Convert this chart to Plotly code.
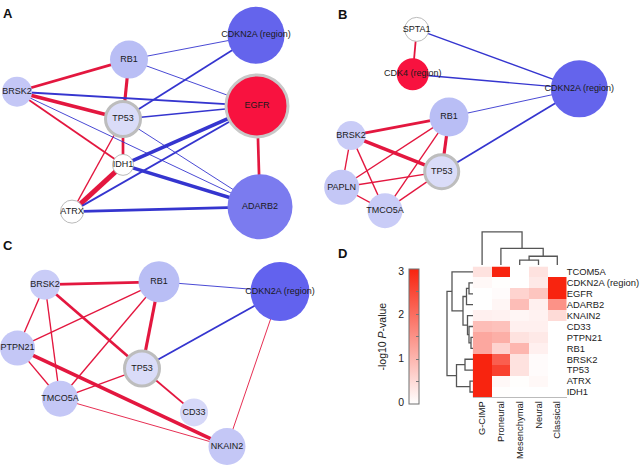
import plotly.graph_objects as go

W, H = 640, 471

# ---------------- data ----------------
# Network A: edges (source, target, sign (+1 positive / -1 negative), weight)
A_edges = [
    ("RB1", "BRSK2", 1, 3), ("RB1", "TP53", 1, 3.5), ("BRSK2", "TP53", 1, 4),
    ("BRSK2", "IDH1", 1, 2), ("TP53", "IDH1", 1, 3), ("IDH1", "ATRX", 1, 5.5),
    ("TP53", "ATRX", 1, 1.5), ("EGFR", "ADARB2", 1, 3),
    ("RB1", "CDKN2A (region)", -1, 1), ("RB1", "EGFR", -1, 1), ("BRSK2", "EGFR", -1, 2),
    ("BRSK2", "ADARB2", -1, 1), ("TP53", "CDKN2A (region)", -1, 2), ("TP53", "EGFR", -1, 1.5),
    ("TP53", "ADARB2", -1, 1), ("IDH1", "EGFR", -1, 4), ("IDH1", "ADARB2", -1, 4),
    ("ATRX", "EGFR", -1, 2), ("ATRX", "ADARB2", -1, 3),
]
# Network B
B_edges = [
    ("SPTA1", "CDK4 (region)", 1, 2), ("SPTA1", "CDKN2A (region)", -1, 1.5),
    ("CDK4 (region)", "CDKN2A (region)", -1, 1.5), ("RB1", "CDKN2A (region)", -1, 1),
    ("TP53", "CDKN2A (region)", -1, 2), ("RB1", "BRSK2", 1, 3), ("RB1", "TP53", 1, 3.5),
    ("RB1", "PAPLN", 1, 1.5), ("RB1", "TMCO5A", 1, 1.5), ("BRSK2", "TP53", 1, 4),
    ("BRSK2", "PAPLN", 1, 1.5), ("BRSK2", "TMCO5A", 1, 1.5), ("PAPLN", "TP53", 1, 1.5),
    ("PAPLN", "TMCO5A", 1, 1.5), ("TMCO5A", "TP53", 1, 1.5),
]
# Network C
C_edges = [
    ("BRSK2", "RB1", 1, 3), ("BRSK2", "TP53", 1, 3), ("BRSK2", "PTPN21", 1, 1.5),
    ("BRSK2", "TMCO5A", 1, 1.5), ("RB1", "TP53", 1, 3.5), ("RB1", "PTPN21", 1, 1.5),
    ("RB1", "TMCO5A", 1, 1.5), ("RB1", "CDKN2A (region)", -1, 1),
    ("TP53", "CDKN2A (region)", -1, 2), ("PTPN21", "TMCO5A", 1, 1.5),
    ("PTPN21", "NKAIN2", 1, 4), ("TMCO5A", "TP53", 1, 1.5), ("TMCO5A", "NKAIN2", 1, 1),
    ("TP53", "CD33", 1, 2), ("CDKN2A (region)", "NKAIN2", 1, 1),
]

# Heatmap D: -log10 P-values
hm_rows = ["TCOM5A", "CDKN2A (region)", "EGFR", "ADARB2", "KNAIN2", "CD33",
           "PTPN21", "RB1", "BRSK2", "TP53", "ATRX", "IDH1"]
hm_cols = ["G-CIMP", "Proneural", "Mesenchymal", "Neural", "Classical"]
hm_z = [
    [0.40, 3.00, 0.00, 0.40, 0.00],
    [0.10, 0.02, 0.00, 0.30, 3.00],
    [0.00, 0.05, 0.60, 0.80, 3.00],
    [0.00, 0.12, 0.90, 0.20, 1.50],
    [0.20, 0.18, 0.12, 0.18, 0.50],
    [0.90, 0.85, 0.20, 0.20, 0.00],
    [1.20, 1.10, 0.40, 0.30, 0.00],
    [1.20, 0.60, 1.00, 0.20, 0.00],
    [3.00, 2.20, 0.40, 0.05, 0.00],
    [3.00, 2.60, 0.40, 0.05, 0.00],
    [3.00, 0.10, 0.02, 0.10, 0.00],
    [3.00, 0.02, 0.00, 0.00, 0.00],
]
# dendrogram linkages: (child a, child b, height); new cluster ids continue after leaves
col_linkage = [(2, 3, 5), (5, 4, 9), (1, 6, 17), (0, 7, 34)]
row_linkage = [(1, 2, 4), (12, 3, 6.5), (6, 7, 2), (5, 14, 4), (4, 15, 5.5),
               (13, 16, 10), (0, 17, 21), (8, 9, 8), (10, 11, 3), (19, 20, 16.5),
               (18, 21, 26)]
cbar_ticks = [0, 1, 2, 3]

# ---------------- layout / style ----------------
LAV = "#C4C7F6"
LAV2 = "#B9BEF5"
PALE = "#DADCF8"
BLUE = "#6464EC"
BLUE2 = "#7B7BEF"
REDN = "#F8123F"
WHITE = "#FFFFFF"
# node: (x px, y px, diameter, fill, border color, border width)
A_nodes = {
    "CDKN2A (region)": (256, 30, 57, BLUE, BLUE, 0),
    "RB1": (129, 55, 38, LAV2, LAV2, 0),
    "BRSK2": (17, 88, 30, LAV, LAV, 0),
    "TP53": (123, 116, 35, PALE, "#BDBDBD", 3),
    "EGFR": (257, 102.5, 62, REDN, "#C8C8C8", 3),
    "IDH1": (123, 163, 21, WHITE, "#BBBBBB", 1),
    "ATRX": (72, 211, 23, WHITE, "#BBBBBB", 1),
    "ADARB2": (260, 206, 65, BLUE2, BLUE2, 0),
}
B_nodes = {
    "SPTA1": (416.7, 24, 24, WHITE, "#BBBBBB", 1),
    "CDK4 (region)": (412.7, 70, 32, REDN, REDN, 0),
    "CDKN2A (region)": (579.3, 85, 57, BLUE, BLUE, 0),
    "RB1": (449, 114, 39, LAV2, LAV2, 0),
    "BRSK2": (351, 133, 29, "#C9CCF7", "#C9CCF7", 0),
    "TP53": (441.7, 170, 34, PALE, "#BDBDBD", 3),
    "PAPLN": (341.7, 186, 35, LAV, LAV, 0),
    "TMCO5A": (385, 210, 35, "#C9CCF7", "#C9CCF7", 0),
}
C_nodes = {
    "BRSK2": (45, 286, 30, "#C9CCF7", "#C9CCF7", 0),
    "RB1": (159, 283, 41, LAV2, LAV2, 0),
    "CDKN2A (region)": (280, 293, 59, "#6262EE", "#6262EE", 0),
    "PTPN21": (17.5, 351, 35, LAV, LAV, 0),
    "TP53": (142, 372, 35, PALE, "#BDBDBD", 3),
    "TMCO5A": (60, 403, 36, LAV, LAV, 0),
    "CD33": (194, 417, 28, "#D6D8F8", "#D6D8F8", 0),
    "NKAIN2": (227, 452, 37, LAV, LAV, 0),
}
POS_COL = "#E3173F"
NEG_COL = "#3535CF"
FONT = "Liberation Sans, Arial, sans-serif"

fig = go.Figure()

def add_network(nodes, edges):
    for a, b, s, w in edges:
        xa, ya = nodes[a][:2]
        xb, yb = nodes[b][:2]
        fig.add_trace(go.Scatter(
            x=[xa, xb], y=[ya, yb], mode="lines",
            line=dict(color=POS_COL if s > 0 else NEG_COL, width=w * 0.9),
            hoverinfo="skip", showlegend=False, xaxis="x", yaxis="y", cliponaxis=False))

def add_nodes(nodes):
    names = list(nodes)
    fig.add_trace(go.Scatter(
        x=[nodes[n][0] for n in names], y=[nodes[n][1] for n in names],
        mode="markers+text", text=names, textposition="middle center",
        textfont=dict(family=FONT, size=9, color="#1a1a1a"),
        marker=dict(size=[nodes[n][2] for n in names],
                    color=[nodes[n][3] for n in names],
                    line=dict(color=[nodes[n][4] for n in names],
                              width=[nodes[n][5] for n in names]),
                    opacity=1),
        hoverinfo="skip", showlegend=False, xaxis="x", yaxis="y", cliponaxis=False))

for nd, ed in ((A_nodes, A_edges), (B_nodes, B_edges), (C_nodes, C_edges)):
    add_network(nd, ed)
for nd in (A_nodes, B_nodes, C_nodes):
    add_nodes(nd)

# heatmap
RED = "#F8240F"
fig.add_trace(go.Heatmap(
    z=hm_z, x=hm_cols, y=hm_rows, zmin=0, zmax=3,
    colorscale=[[0, "#FFFFFF"], [1, RED]], xaxis="x2", yaxis="y2",
    hoverinfo="skip",
    colorbar=dict(x=409 / W, xanchor="left", xpad=0, xref="paper",
                  y=1 - 339.5 / H, yanchor="middle", ypad=0, yref="paper",
                  len=135, lenmode="pixels", thickness=9.5, thicknessmode="pixels",
                  outlinecolor="#707070", outlinewidth=1,
                  tickvals=[0.5, 1, 1.5, 2, 2.5], ticks="inside", ticklen=3,
                  tickcolor="#777", showticklabels=False),
))

def dendro(linkage, n):
    pos = {i: float(i) for i in range(n)}
    hgt = {i: 0.0 for i in range(n)}
    p, h = [], []
    for k, (a, b, ht) in enumerate(linkage):
        p += [pos[a], pos[a], pos[b], pos[b], None]
        h += [hgt[a], ht, ht, hgt[b], None]
        pos[n + k] = (pos[a] + pos[b]) / 2
        hgt[n + k] = ht
    return p, h

cp, ch = dendro(col_linkage, len(hm_cols))
fig.add_trace(go.Scatter(x=cp, y=ch, mode="lines", line=dict(color="#555", width=1.3),
                         xaxis="x3", yaxis="y3", hoverinfo="skip", showlegend=False,
                         cliponaxis=False))
rp, rh = dendro(row_linkage, len(hm_rows))
fig.add_trace(go.Scatter(x=rh, y=rp, mode="lines", line=dict(color="#555", width=1.3),
                         xaxis="x4", yaxis="y4", hoverinfo="skip", showlegend=False,
                         cliponaxis=False))
# invisible anchor for colorbar label axis
fig.add_trace(go.Scatter(x=[0], y=[0], mode="markers", marker=dict(opacity=0),
                         xaxis="x5", yaxis="y5", hoverinfo="skip", showlegend=False))

hm_x0, hm_x1 = 472.7, 566.7
hm_y0, hm_y1 = 267.3, 401.7
def py(v):
    return 1 - v / H

hidden = dict(visible=False, fixedrange=True)
fig.update_layout(
    width=W, height=H, autosize=False, margin=dict(l=0, r=0, t=0, b=0),
    paper_bgcolor="white", plot_bgcolor="rgba(0,0,0,0)",
    font=dict(family=FONT, color="#222"),
    xaxis=dict(domain=[0, 1], range=[0, W], **hidden),
    yaxis=dict(domain=[0, 1], range=[H, 0], **hidden),
    xaxis2=dict(domain=[hm_x0 / W, hm_x1 / W], anchor="y2", tickangle=-90,
                tickmode="array", tickvals=hm_cols, ticktext=hm_cols,
                tickfont=dict(size=9.4), showgrid=False, zeroline=False,
                showline=True, linecolor="#BBBBBB", linewidth=1, ticks="",
                ticklabelstandoff=-1, fixedrange=True),
    yaxis2=dict(domain=[py(hm_y1), py(hm_y0)], anchor="x2", side="right",
                tickmode="array", tickvals=hm_rows, ticktext=hm_rows,
                autorange="reversed", tickfont=dict(size=9.4), showgrid=False,
                zeroline=False, ticks="", ticklabelstandoff=-1, fixedrange=True),
    xaxis3=dict(domain=[hm_x0 / W, hm_x1 / W], anchor="y3", range=[-0.5, 4.5], **hidden),
    yaxis3=dict(domain=[py(hm_y0 - 1.5), py(hm_y0 - 37.5)], anchor="x3", range=[0, 36], **hidden),
    xaxis4=dict(domain=[446 / W, (hm_x0 + 0.3) / W], anchor="y4", range=[27, 0], **hidden),
    yaxis4=dict(domain=[py(hm_y1), py(hm_y0)], anchor="x4", range=[11.5, -0.5], **hidden),
    xaxis5=dict(domain=[409 / W, 418.5 / W], anchor="y5", **hidden),
    yaxis5=dict(domain=[py(406.8), py(271.8)], anchor="x5", range=[0, 3],
                tickvals=cbar_ticks, ticks="", showgrid=False, zeroline=False,
                showline=False, tickfont=dict(size=10.5), ticklabelstandoff=4,
                title=dict(text="-log10 <i>P</i>-value", font=dict(size=10.5), standoff=9),
                fixedrange=True),
)

for lab, x, y in (("A", 1, 1), ("B", 336, 2), ("C", 1, 239), ("D", 336, 247)):
    fig.add_annotation(text=f"<b>{lab}</b>", x=x / W, y=py(y - 3), xref="paper", yref="paper",
                       xanchor="left", yanchor="top", showarrow=False,
                       font=dict(family=FONT, size=13, color="#111"))

fig.write_html("out.html", config={"displayModeBar": False},
               post_script="document.body.style.margin='0';")
